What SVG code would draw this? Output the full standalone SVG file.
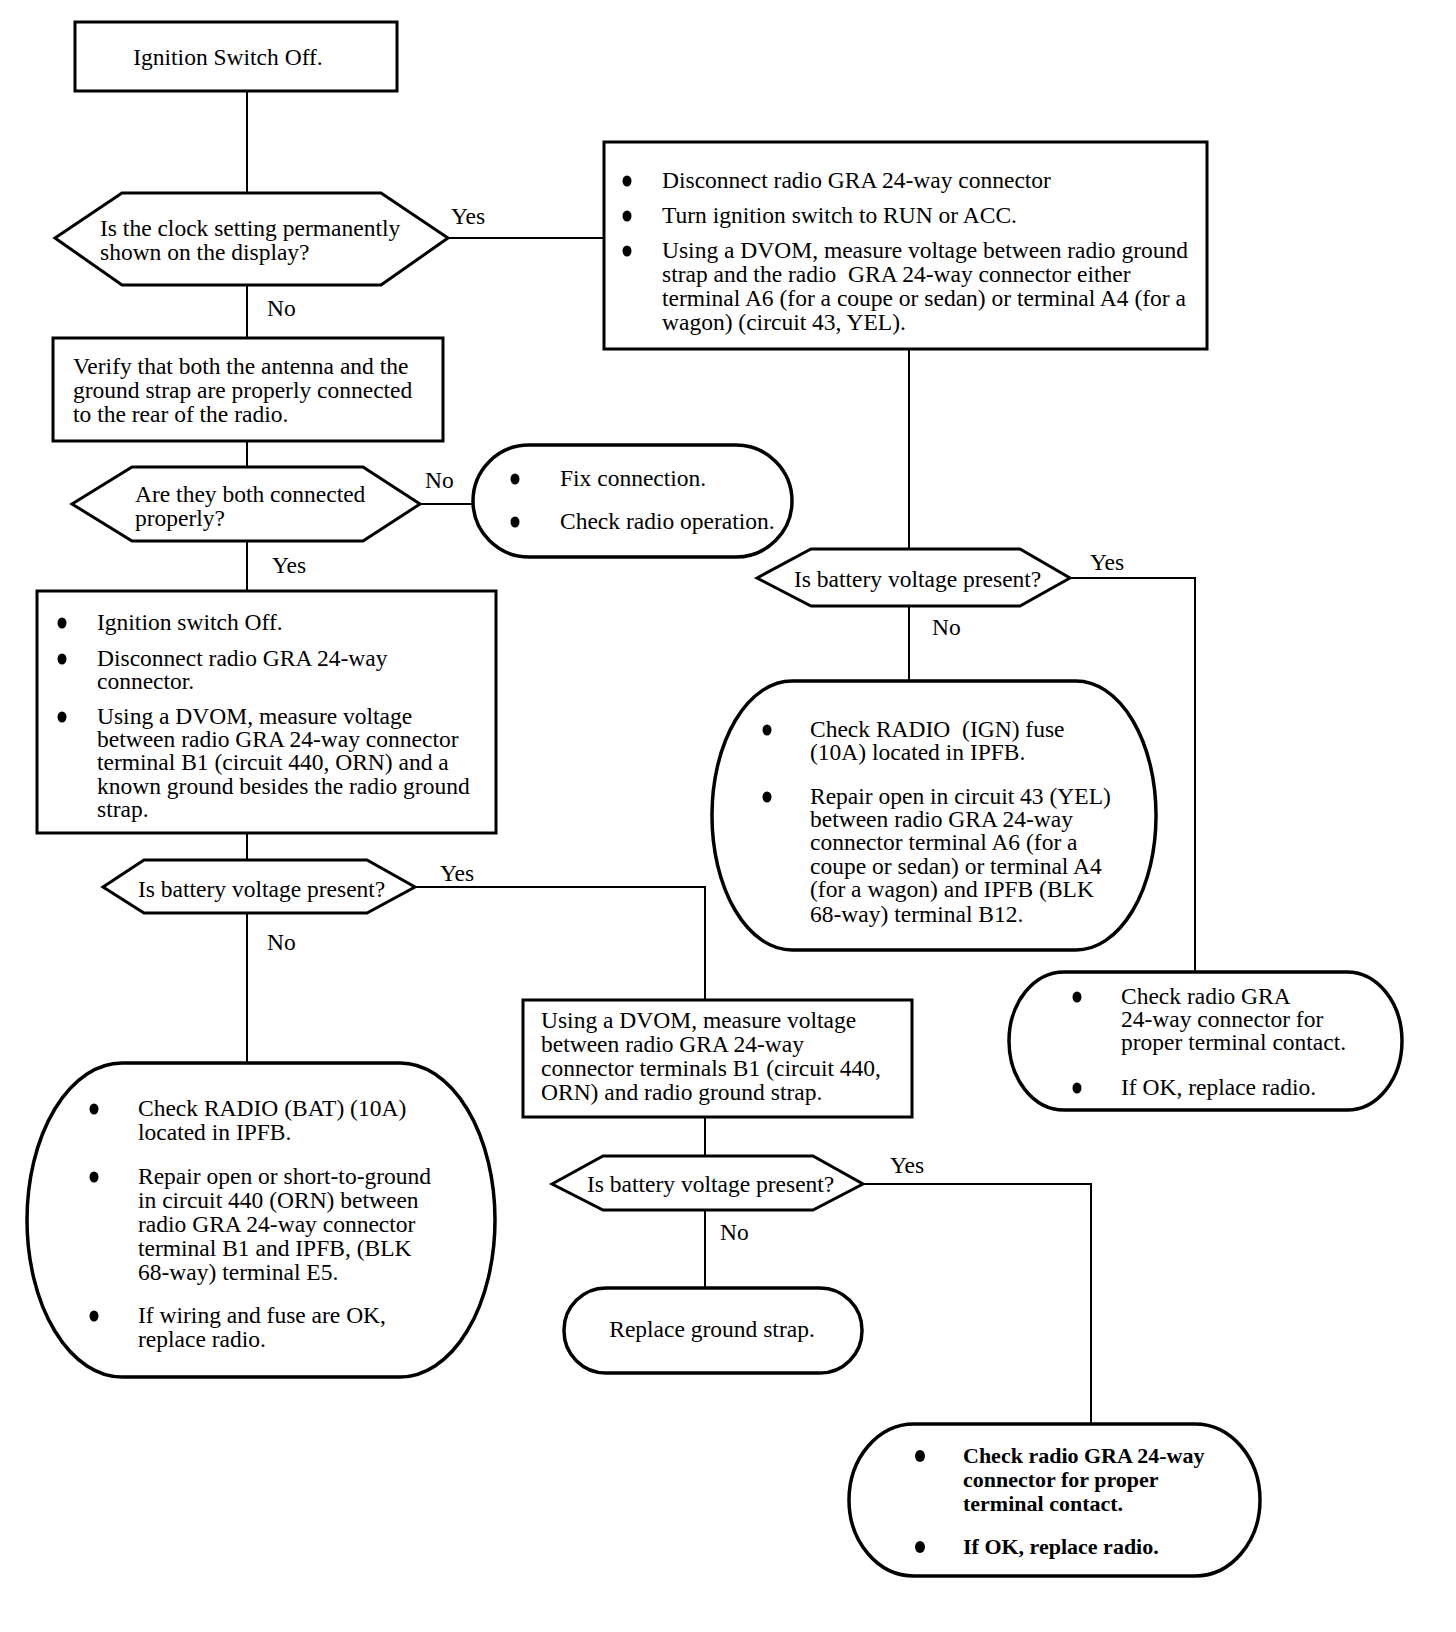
<svg xmlns="http://www.w3.org/2000/svg" width="1456" height="1632" viewBox="0 0 1456 1632">
<style>
text{font-family:"Liberation Serif","Times New Roman",serif;font-size:23.5px;fill:#000}
.b{font-weight:bold;font-size:22px}
.box{fill:#fff;stroke:#000;stroke-width:3}
.pill{fill:#fff;stroke:#000;stroke-width:3.5}
.c{fill:none;stroke:#000;stroke-width:2}
.dot{fill:#000}
</style>
<rect width="1456" height="1632" fill="#fff"/>
<g id="connectors">
<path class="c" d="M247,91V193"/>
<path class="c" d="M448,238H604"/>
<path class="c" d="M247,285V338"/>
<path class="c" d="M247,441V467"/>
<path class="c" d="M420,504H473"/>
<path class="c" d="M247,541V591"/>
<path class="c" d="M247,833V860"/>
<path class="c" d="M415,887H705V999"/>
<path class="c" d="M247,913V1063"/>
<path class="c" d="M705,1117V1156"/>
<path class="c" d="M863,1184H1091V1424"/>
<path class="c" d="M705,1210V1288"/>
<path class="c" d="M909,349V549"/>
<path class="c" d="M1070,578H1195V972"/>
<path class="c" d="M909,606V681"/>
<text x="451" y="224">Yes</text>
<text x="267" y="316">No</text>
<text x="425" y="488">No</text>
<text x="272" y="573">Yes</text>
<text x="440" y="881">Yes</text>
<text x="267" y="950">No</text>
<text x="890" y="1173">Yes</text>
<text x="720" y="1240">No</text>
<text x="1090" y="570">Yes</text>
<text x="932" y="635">No</text>
</g>
<g id="start">
<rect class="box" x="75" y="22" width="322" height="69"/>
<text x="228" y="65" text-anchor="middle">Ignition Switch Off.</text>
</g>
<g id="q-clock">
<polygon class="box" points="55,238 122,193 381,193 448,238 381,285 122,285"/>
<text x="100" y="236">Is the clock setting permanently</text>
<text x="100" y="260">shown on the display?</text>
</g>
<g id="verify">
<rect class="box" x="53" y="338" width="390" height="103"/>
<text x="73" y="374">Verify that both the antenna and the</text>
<text x="73" y="398">ground strap are properly connected</text>
<text x="73" y="422">to the rear of the radio.</text>
</g>
<g id="q-connected">
<polygon class="box" points="72,504 132,467 363,467 420,504 363,541 132,541"/>
<text x="135" y="502">Are they both connected</text>
<text x="135" y="526">properly?</text>
</g>
<g id="fix">
<rect class="pill" x="473" y="445" width="319" height="112" rx="56" ry="56"/>
<ellipse class="dot" cx="515" cy="479" rx="4.5" ry="5.5"/>
<text x="560" y="486">Fix connection.</text>
<ellipse class="dot" cx="515" cy="522" rx="4.5" ry="5.5"/>
<text x="560" y="529">Check radio operation.</text>
</g>
<g id="measure-b1">
<rect class="box" x="37" y="591" width="459" height="242"/>
<ellipse class="dot" cx="62" cy="623" rx="4.5" ry="5.5"/>
<text x="97" y="630">Ignition switch Off.</text>
<ellipse class="dot" cx="62" cy="659" rx="4.5" ry="5.5"/>
<text x="97" y="666">Disconnect radio GRA 24-way</text>
<text x="97" y="689">connector.</text>
<ellipse class="dot" cx="62" cy="717" rx="4.5" ry="5.5"/>
<text x="97" y="724">Using a DVOM, measure voltage</text>
<text x="97" y="747">between radio GRA 24-way connector</text>
<text x="97" y="770">terminal B1 (circuit 440, ORN) and a</text>
<text x="97" y="794">known ground besides the radio ground</text>
<text x="97" y="817">strap.</text>
</g>
<g id="q-bat1">
<polygon class="box" points="103,887 144,860 367,860 415,887 367,913 144,913"/>
<text x="138" y="897">Is battery voltage present?</text>
</g>
<g id="repair-bat">
<rect class="pill" x="27" y="1063" width="468" height="314" rx="95" ry="157"/>
<ellipse class="dot" cx="94" cy="1109" rx="4.5" ry="5.5"/>
<text x="138" y="1116">Check RADIO (BAT) (10A)</text>
<text x="138" y="1140">located in IPFB.</text>
<ellipse class="dot" cx="94" cy="1177" rx="4.5" ry="5.5"/>
<text x="138" y="1184">Repair open or short-to-ground</text>
<text x="138" y="1208">in circuit 440 (ORN) between</text>
<text x="138" y="1232">radio GRA 24-way connector</text>
<text x="138" y="1256">terminal B1 and IPFB, (BLK</text>
<text x="138" y="1280">68-way) terminal E5.</text>
<ellipse class="dot" cx="94" cy="1316" rx="4.5" ry="5.5"/>
<text x="138" y="1323">If wiring and fuse are OK,</text>
<text x="138" y="1347">replace radio.</text>
</g>
<g id="measure-strap">
<rect class="box" x="523" y="1000" width="389" height="117"/>
<text x="541" y="1028">Using a DVOM, measure voltage</text>
<text x="541" y="1052">between radio GRA 24-way</text>
<text x="541" y="1076">connector terminals B1 (circuit 440,</text>
<text x="541" y="1100">ORN) and radio ground strap.</text>
</g>
<g id="q-bat2">
<polygon class="box" points="552,1184 603,1156 813,1156 863,1184 813,1210 603,1210"/>
<text x="587" y="1192">Is battery voltage present?</text>
</g>
<g id="replace-strap">
<rect class="pill" x="564" y="1288" width="298" height="85" rx="42" ry="42"/>
<text x="712" y="1337" text-anchor="middle">Replace ground strap.</text>
</g>
<g id="check-contact-2">
<rect class="pill" x="849" y="1424" width="411" height="152" rx="65" ry="76"/>
<ellipse class="dot" cx="920" cy="1456" rx="5" ry="6"/>
<text class="b" x="963" y="1463">Check radio GRA 24-way</text>
<text class="b" x="963" y="1487">connector for proper</text>
<text class="b" x="963" y="1511">terminal contact.</text>
<ellipse class="dot" cx="920" cy="1547" rx="5" ry="6"/>
<text class="b" x="963" y="1554">If OK, replace radio.</text>
</g>
<g id="measure-a6">
<rect class="box" x="604" y="142" width="603" height="207"/>
<ellipse class="dot" cx="627" cy="181" rx="4.5" ry="5.5"/>
<text x="662" y="188">Disconnect radio GRA 24-way connector</text>
<ellipse class="dot" cx="627" cy="216" rx="4.5" ry="5.5"/>
<text x="662" y="223">Turn ignition switch to RUN or ACC.</text>
<ellipse class="dot" cx="627" cy="251" rx="4.5" ry="5.5"/>
<text x="662" y="258">Using a DVOM, measure voltage between radio ground</text>
<text x="662" y="282" xml:space="preserve">strap and the radio  GRA 24-way connector either</text>
<text x="662" y="306">terminal A6 (for a coupe or sedan) or terminal A4 (for a</text>
<text x="662" y="330">wagon) (circuit 43, YEL).</text>
</g>
<g id="q-bat3">
<polygon class="box" points="757,578 811,549 1020,549 1070,578 1020,606 811,606"/>
<text x="794" y="587">Is battery voltage present?</text>
</g>
<g id="repair-ign">
<rect class="pill" x="712" y="681" width="444" height="269" rx="80" ry="134"/>
<ellipse class="dot" cx="767" cy="730" rx="4.5" ry="5.5"/>
<text x="810" y="737" xml:space="preserve">Check RADIO  (IGN) fuse</text>
<text x="810" y="760">(10A) located in IPFB.</text>
<ellipse class="dot" cx="767" cy="797" rx="4.5" ry="5.5"/>
<text x="810" y="804">Repair open in circuit 43 (YEL)</text>
<text x="810" y="827">between radio GRA 24-way</text>
<text x="810" y="850">connector terminal A6 (for a</text>
<text x="810" y="874">coupe or sedan) or terminal A4</text>
<text x="810" y="897">(for a wagon) and IPFB (BLK</text>
<text x="810" y="922">68-way) terminal B12.</text>
</g>
<g id="check-contact-1">
<rect class="pill" x="1009" y="972" width="393" height="138" rx="55" ry="69"/>
<ellipse class="dot" cx="1077" cy="997" rx="4.5" ry="5.5"/>
<text x="1121" y="1004">Check radio GRA</text>
<text x="1121" y="1027">24-way connector for</text>
<text x="1121" y="1050">proper terminal contact.</text>
<ellipse class="dot" cx="1077" cy="1088" rx="4.5" ry="5.5"/>
<text x="1121" y="1095">If OK, replace radio.</text>
</g>
</svg>
